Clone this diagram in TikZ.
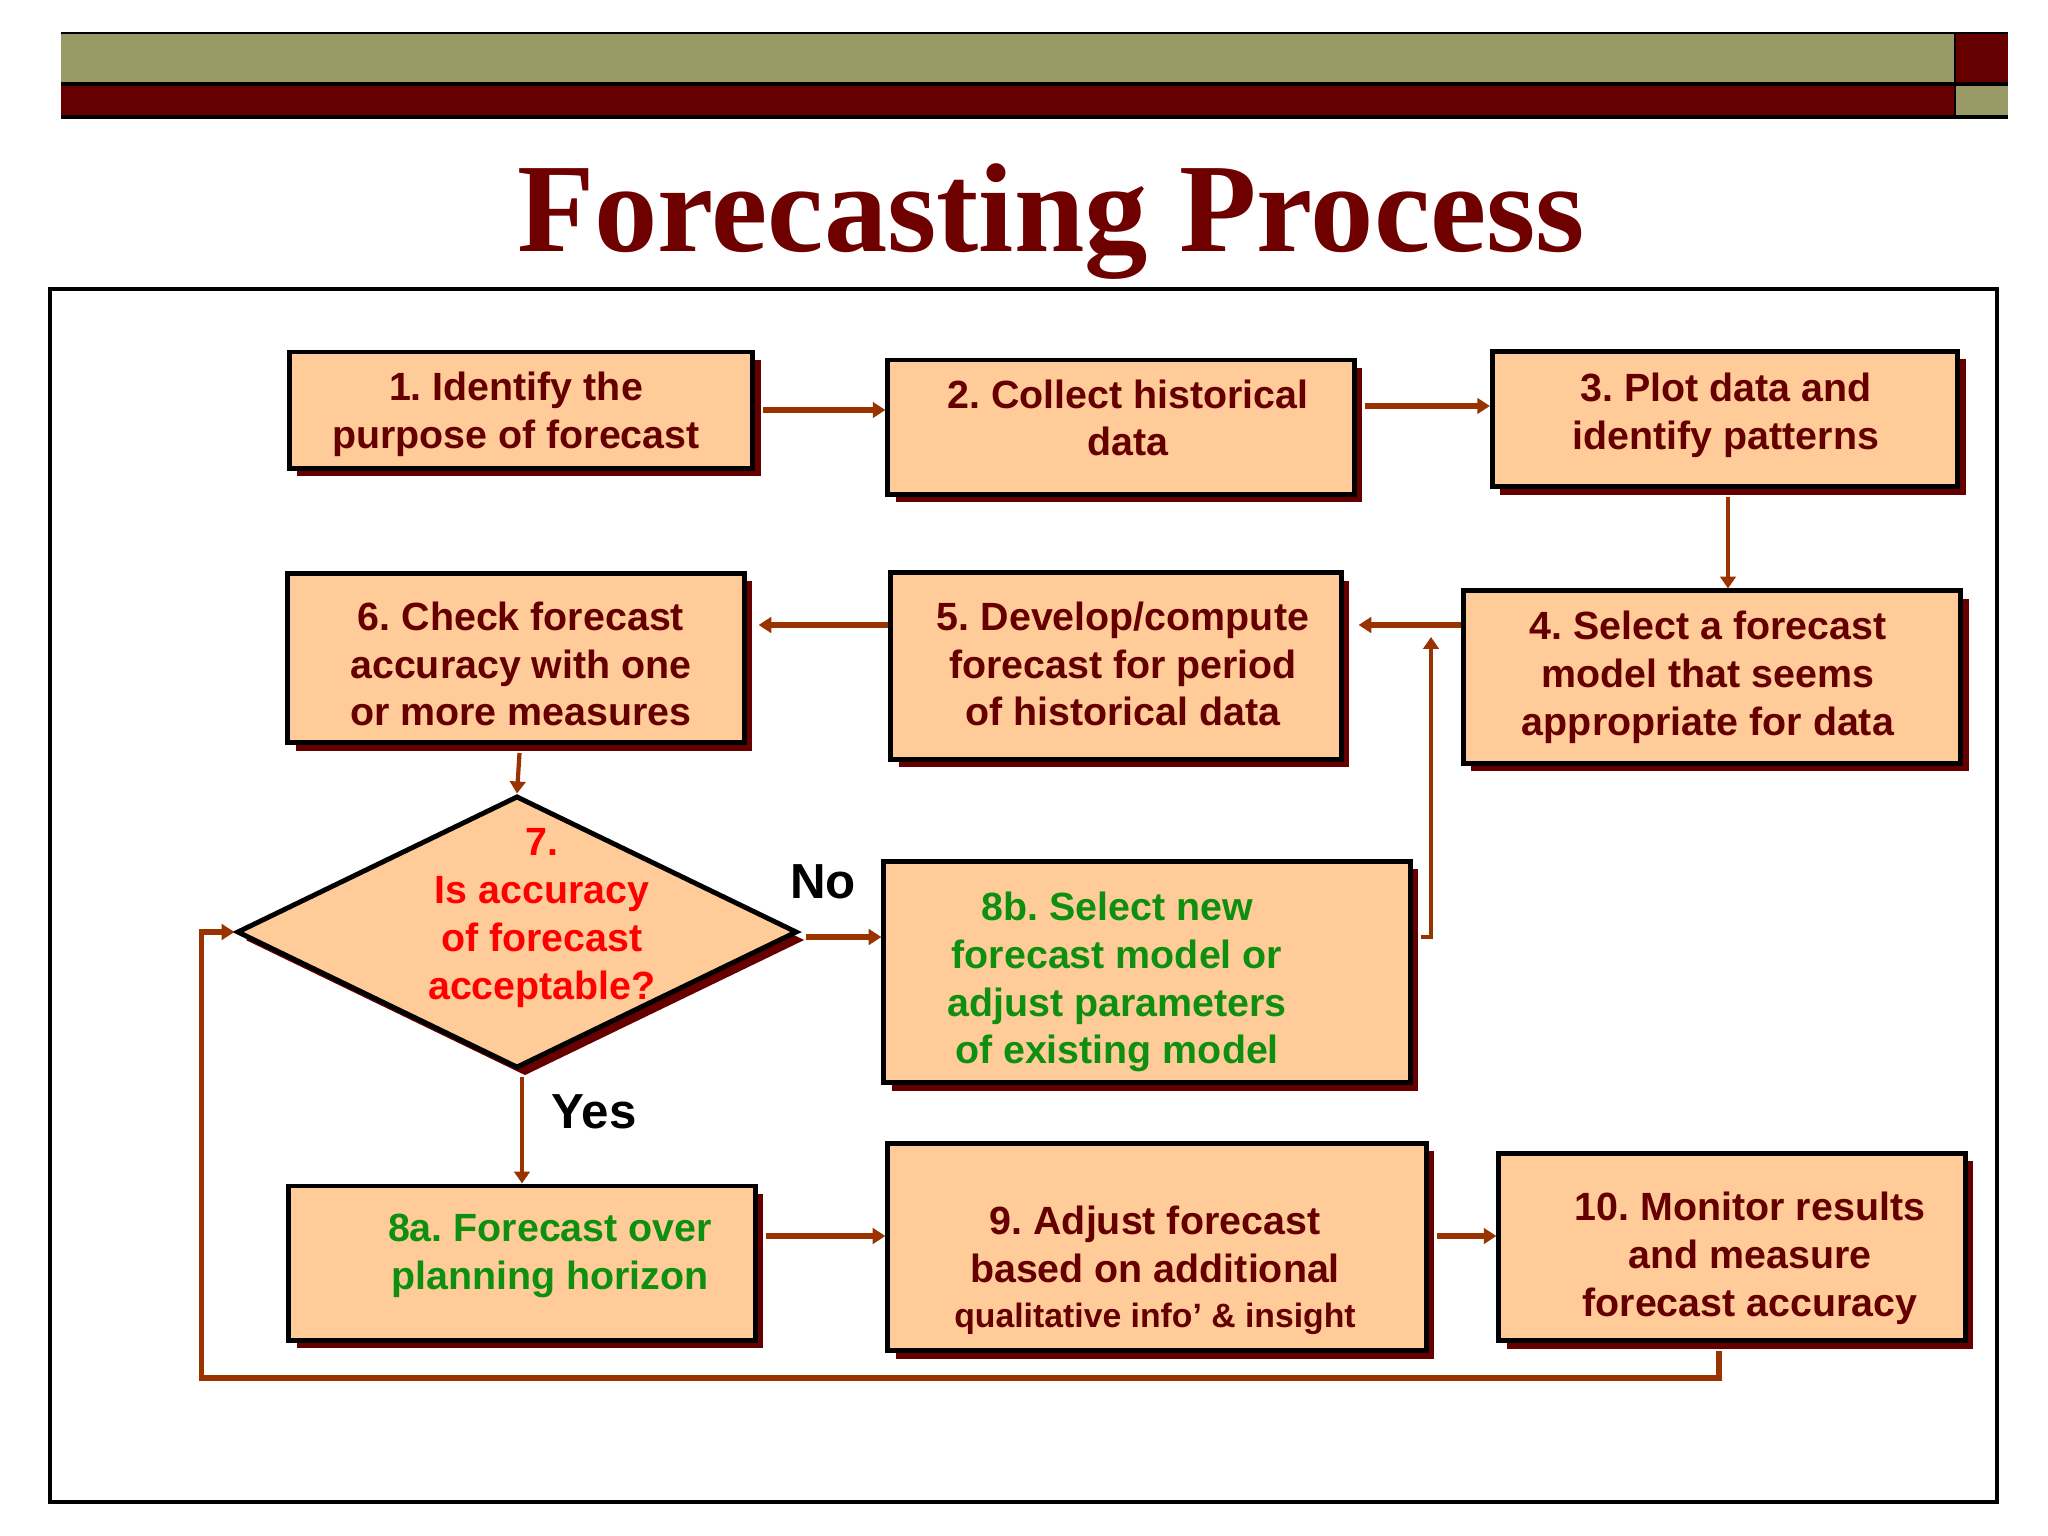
\documentclass[tikz,border=0pt]{standalone}
\usepackage{fontspec}
\setmainfont{Liberation Sans}
\newfontfamily\titlefont{Liberation Serif}
\usetikzlibrary{shapes.geometric,shadows,arrows.meta}
\definecolor{peach}{HTML}{FFCC99}
\definecolor{dred}{HTML}{660000}
\definecolor{olivec}{HTML}{999966}
\definecolor{arrowc}{HTML}{993300}
\definecolor{tgreen}{HTML}{0F8F0F}
\definecolor{tred}{HTML}{FF0000}
\definecolor{titlec}{HTML}{6E0000}
\frenchspacing
\begin{document}
\begin{tikzpicture}[x=0.01cm,y=-0.01cm,
  shad/.style={drop shadow={shadow xshift=0.08cm, shadow yshift=-0.08cm, opacity=1, fill=dred}},
  box/.style={rectangle, draw=black, line width=1.4pt, fill=peach, inner sep=0pt, shad},
  dia/.style={diamond, draw=black, line width=1.4pt, fill=peach, inner sep=0pt, shad},
  txt/.style={font=\fontsize{11.2pt}{13.6pt}\selectfont\bfseries, align=center, text=dred, inner sep=0pt},
  arr/.style={draw=arrowc, line width=1.6pt, -{Triangle[length=3.6pt,width=4.4pt]}},
  thinarr/.style={draw=arrowc, line width=1.2pt, -{Triangle[length=3.4pt,width=4.4pt]}},
  lab/.style={font=\fontsize{14pt}{16pt}\selectfont\bfseries, text=black, inner sep=0pt}
]
\useasboundingbox (0,0) rectangle (2048,1536);
\fill[white] (0,0) rectangle (2048,1536);

% top banner
\fill[olivec] (61,33) rectangle (1955,84);
\fill[dred] (61,84) rectangle (1955,117);
\fill[dred] (1955,33) rectangle (2008,84);
\fill[olivec] (1955,84) rectangle (2008,117);
\draw[line width=0.8pt] (61,33) -- (2008,33);
\draw[line width=0.9pt] (61,84) -- (2008,84);
\draw[line width=0.9pt] (61,117) -- (2008,117);
\draw[line width=0.8pt] (1955,33) -- (1955,117);

% title
\node[anchor=base, inner sep=0pt, text=titlec, font=\titlefont\fontsize{36pt}{40pt}\selectfont\bfseries] (title) at (1051,251) {Forecasting Process};

% frame
\draw[line width=1.4pt] (50,289) rectangle (1997,1502);

% boxes
\node[box, minimum width=4.63cm, minimum height=1.16cm] (b1) at (521,410) {};
\node[box, minimum width=4.66cm, minimum height=1.34cm] (b2) at (1121,427) {};
\node[box, minimum width=4.65cm, minimum height=1.35cm] (b3) at (1725,419) {};
\node[box, minimum width=4.97cm, minimum height=1.72cm] (b4) at (1712,677) {};
\node[box, minimum width=4.50cm, minimum height=1.86cm] (b5) at (1116,666) {};
\node[box, minimum width=4.56cm, minimum height=1.69cm] (b6) at (516,658) {};
\node[dia, minimum width=5.60cm, minimum height=2.72cm] (d7) at (517,932) {};
\node[box, minimum width=5.26cm, minimum height=2.21cm] (b8b) at (1147,972) {};
\node[box, minimum width=4.66cm, minimum height=1.54cm] (b8a) at (522,1263) {};
\node[box, minimum width=5.38cm, minimum height=2.07cm] (b9) at (1157,1247) {};
\node[box, minimum width=4.66cm, minimum height=1.87cm] (b10) at (1732,1247) {};

% texts
\node[txt] (t1) at ([shift={(-0.05cm,-0.04cm)}]b1.center) {1. Identify the\\purpose of forecast};
\node[txt] (t2) at ([shift={(0.07cm,0.09cm)}]b2.center) {2. Collect historical\\data};
\node[txt] (t3) at ([shift={(0.01cm,0.04cm)}]b3.center) {3. Plot data and\\identify patterns};
\node[txt] (t4) at ([shift={(-0.04cm,0cm)}]b4.center) {4. Select a forecast\\model that seems\\appropriate for data};
\node[txt] (t5) at ([shift={(0.07cm,0.02cm)}]b5.center) {5. Develop/compute\\forecast for period\\of historical data};
\node[txt] (t6) at ([shift={(0.05cm,-0.06cm)}]b6.center) {6. Check forecast\\accuracy with one\\or more measures};
\node[txt, text=tred] (t7) at ([shift={(0.25cm,0.14cm)}]d7.center) {7.\\Is accuracy\\of forecast\\acceptable?};
\node[txt, text=tgreen] (t8b) at ([shift={(-0.30cm,-0.10cm)}]b8b.center) {8b. Select new\\forecast model or\\adjust parameters\\of existing model};
\node[txt, text=tgreen] (t8a) at ([shift={(0.28cm,0.07cm)}]b8a.center) {8a. Forecast over\\planning horizon};
\node[txt] (t9) at ([shift={(-0.02cm,-0.23cm)}]b9.center) {9. Adjust forecast\\based on additional\\[-0.8pt]{\fontsize{9.6pt}{11pt}\selectfont qualitative info’ \& insight}};
\node[txt] (t10) at ([shift={(0.18cm,-0.11cm)}]b10.center) {10. Monitor results\\and measure\\forecast accuracy};

% labels
\node[lab] (no) at (823,882) {No};
\node[lab] (yes) at (594,1112) {Yes};

% connectors
\coordinate (a23) at ([yshift=0.21cm]b2.east);
\coordinate (a45) at ([yshift=0.52cm]b4.west);
\coordinate (a56) at ([yshift=0.41cm]b5.west);
\coordinate (a8b) at ([yshift=0.35cm]b8b.east);
\coordinate (up) at (1431,637);
\coordinate (a89) at ([yshift=0.27cm]b8a.east);
\coordinate (a910) at ([yshift=0.11cm]b9.east);
\coordinate (a10) at ([xshift=-0.13cm]b10.south);
\coordinate (lp) at ([xshift=-0.33cm]d7.west);

\draw[arr, shorten <=0.08cm] (b1.east) -- (b1.east -| b2.west);
\draw[arr, shorten <=0.08cm] (a23) -- (a23 -| b3.west);
\draw[thinarr, shorten <=0.08cm] ([xshift=0.03cm]b3.south) -- ([xshift=0.03cm]b3.south |- b4.north);
\draw[arr, shorten >=0.15cm] (a45) -- (a45 -| b5.east);
\draw[arr, shorten >=0.12cm] (a56) -- (a56 -| b6.east);
\draw[thinarr, shorten <=0.08cm] ([xshift=0.04cm]b6.south) -- (d7.north);
\draw[arr, shorten <=0.06cm] ([yshift=-0.05cm]d7.east) -- ([yshift=-0.05cm]d7.east -| b8b.west);
\draw[thinarr, shorten <=0.08cm] (a8b) -| (up);
\draw[thinarr, shorten <=0.06cm] ([xshift=0.05cm]d7.south) -- ([xshift=0.05cm]d7.south |- b8a.north);
\draw[arr, shorten <=0.08cm] (a89) -- (a89 -| b9.west);
\draw[arr, shorten <=0.08cm] (a910) -- (a910 -| b10.west);
\draw[arr, line width=1.5pt, shorten <=0.08cm] (a10) -- ++(0,35) -| (lp) -- (d7.west);
\end{tikzpicture}
\end{document}
